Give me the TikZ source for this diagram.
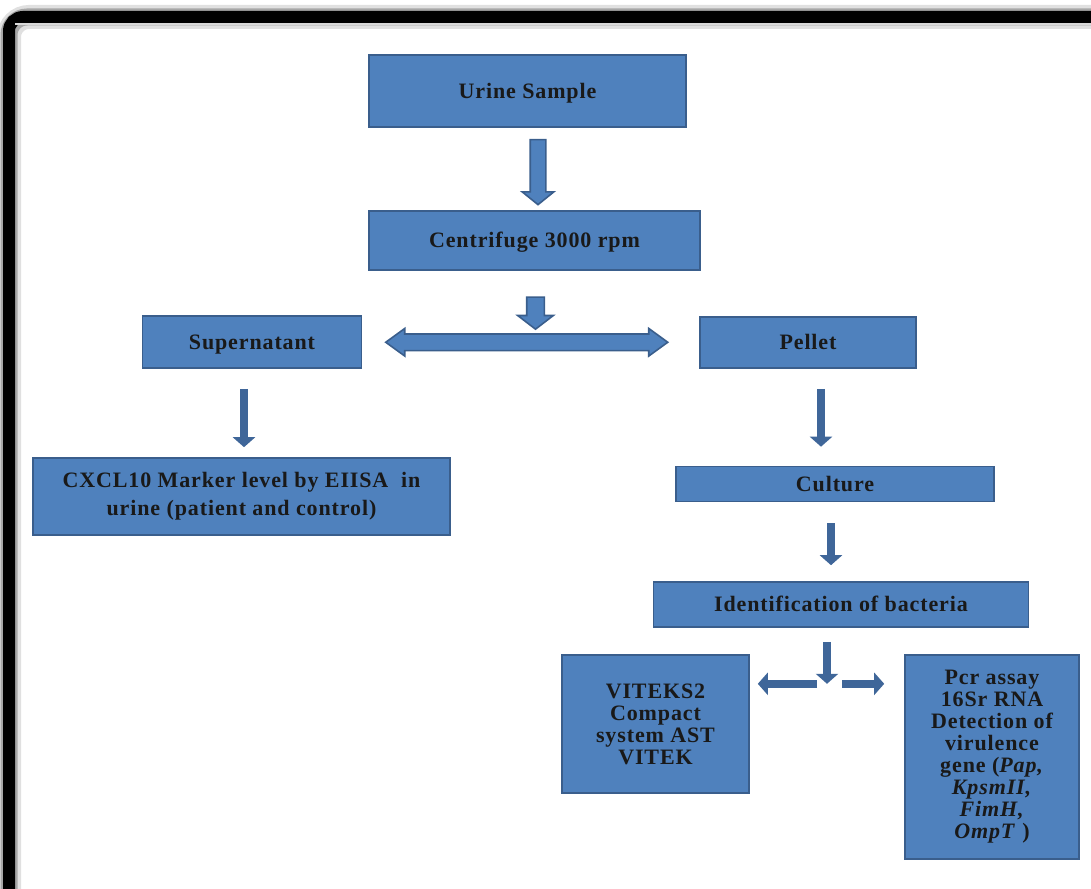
\documentclass[tikz,border=0pt]{standalone}
\usepackage{fontspec}
\setmainfont{Liberation Serif}
\usetikzlibrary{arrows.meta,shapes.arrows,calc}

\definecolor{boxfill}{HTML}{4F81BD}
\definecolor{boxline}{HTML}{3A5E8C}
\definecolor{arrowdark}{HTML}{3F6699}
\newcommand{\boxfont}{\fontsize{22}{22}\selectfont\bfseries\addfontfeature{LetterSpace=4}}

\begin{document}
\begin{tikzpicture}[x=1pt, y=-1pt,
box/.style={draw=boxline, fill=boxfill, line width=1.6pt, align=center,
  font=\boxfont, text=black!90, inner sep=0pt},
oneline/.style={text height=17pt, text depth=2.4pt},
bigarrow/.style={single arrow, draw=boxline, fill=boxfill, line width=1.6pt,
  inner xsep=0pt, single arrow head indent=0pt, rotate=-90},
thinarrow/.style={draw=arrowdark, line width=8pt,
  -{Triangle[width=22pt,length=10pt]}}]

\useasboundingbox (0,0) rectangle (1091,888);

% frame
\draw[line width=24pt, black!12, rounded corners=20pt] (9,900) -- (9,17) -- (1100,17);
\draw[line width=17pt, black!35, rounded corners=18pt] (9,900) -- (9,17) -- (1100,17);
\draw[line width=12pt, black, rounded corners=14pt] (9,900) -- (9,17) -- (1100,17);
\draw[line width=1.5pt, black!15] (15,24) -- (1100,24);

% boxes
\node[box, oneline, minimum width=317pt, minimum height=72pt] (urine) at (527.5,91) {Urine Sample};
\node[box, oneline, minimum width=331pt, minimum height=59pt] (centri) at (534.5,240.5) {Centrifuge 3000 rpm};
\node[box, oneline, minimum width=219pt, minimum height=52pt] (super) at (252,342) {Supernatant};
\node[box, oneline, minimum width=216pt, minimum height=51pt] (pellet) at (808,342.5) {Pellet};
\node[box, minimum width=417pt, minimum height=77pt,
  font=\fontsize{22}{28}\selectfont\bfseries\addfontfeature{LetterSpace=4}]
  (cxcl) at (241.5,496.5) {CXCL10 Marker level by EIISA\ \ in\\urine (patient and control)};
\node[box, oneline, minimum width=318pt, minimum height=35pt] (culture) at (835,484) {Culture};
\node[box, oneline, minimum width=375pt, minimum height=45pt] (ident) at (841,604.5) {Identification of bacteria};
\node[box, minimum width=187pt, minimum height=138pt] (vitek) at (655.5,724)
  {VITEKS2\\Compact\\system AST\\VITEK};
\node[box, minimum width=174pt, minimum height=204pt] (pcr) at (992,757)
  {Pcr assay\\16Sr RNA\\Detection of\\virulence\\gene (\textit{Pap,}\\\textit{KpsmII,}\\\textit{FimH,}\\\textit{OmpT} )};

% block arrows
\node[bigarrow, inner ysep=7pt, minimum height=65pt, single arrow head extend=8pt,
  single arrow tip angle=102] (a1) at ([xshift=7pt]$(urine.south)!.5!(centri.north)$) {};
\node[bigarrow, inner ysep=8pt, minimum height=32pt, single arrow head extend=9pt,
  single arrow tip angle=105] (a2) at ([xshift=1pt,yshift=-39pt]centri.south) {};
\node[double arrow, draw=boxline, fill=boxfill, line width=1.6pt, inner xsep=0pt,
  inner ysep=7.5pt, minimum height=282pt, double arrow head extend=5.5pt,
  double arrow tip angle=72, double arrow head indent=0pt]
  (a3) at ([xshift=-4pt]$(super.east)!.5!(pellet.west)$) {};

% thin arrows
\coordinate (split) at ([xshift=-14pt,yshift=-56pt]ident.south);
\draw[thinarrow, shorten <=20pt, shorten >=10pt] ([xshift=-8pt]super.south)
  -- ([xshift=-8pt]super.south |- cxcl.north);
\draw[thinarrow, shorten <=20pt, shorten >=19pt] ([xshift=13pt]pellet.south)
  -- ([xshift=13pt]pellet.south |- culture.north);
\draw[thinarrow, shorten <=21pt, shorten >=16pt] ([xshift=-4pt]culture.south)
  -- ([xshift=-4pt]culture.south |- ident.north);
\draw[thinarrow, shorten <=14pt] (ident.south -| split) -- (split);
\draw[thinarrow, shorten <=10pt, shorten >=8pt] (split) -- (vitek.east |- split);
\draw[thinarrow, shorten <=15pt, shorten >=20pt] (split) -- (pcr.west |- split);

\end{tikzpicture}
\end{document}
